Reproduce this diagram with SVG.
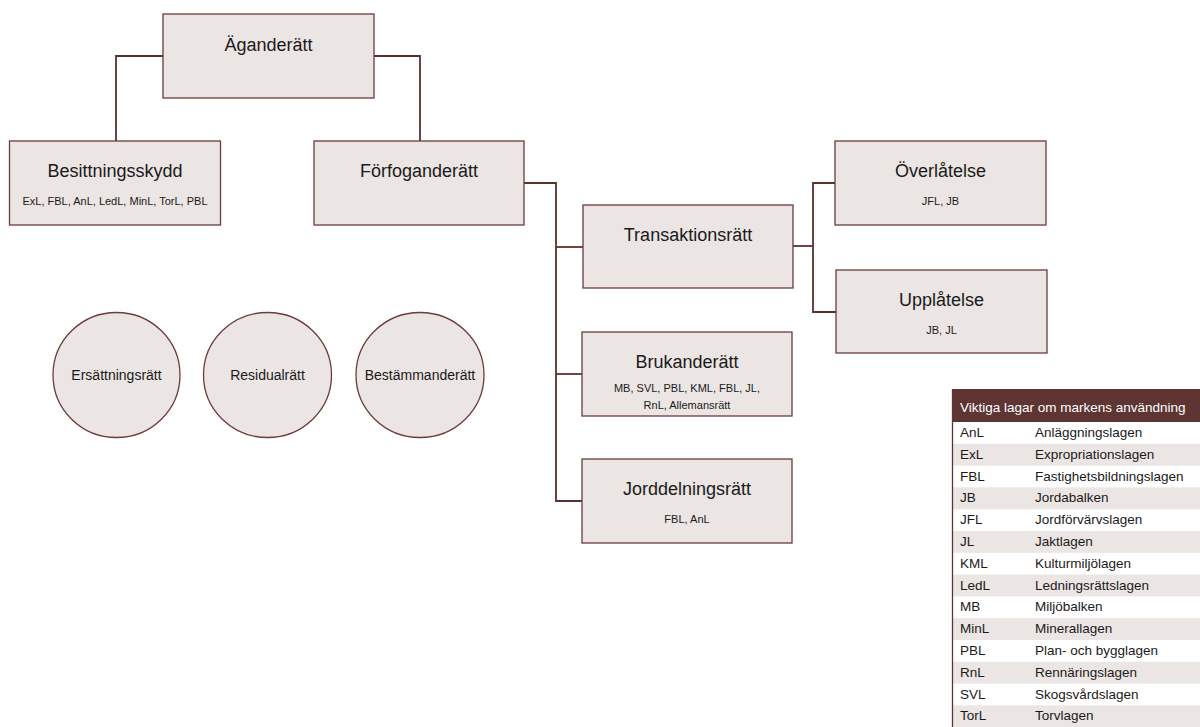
<svg xmlns="http://www.w3.org/2000/svg" width="1200" height="727" viewBox="0 0 1200 727">
<style>
.box{fill:#ebe5e3;stroke:#6b3c3c;stroke-width:1.3}
.t{font-family:"Liberation Sans",Arial,sans-serif;font-size:18px;fill:#1a1a1a;text-anchor:middle}
.s{font-family:"Liberation Sans",Arial,sans-serif;font-size:11px;fill:#1a1a1a;text-anchor:middle}
.c{font-family:"Liberation Sans",Arial,sans-serif;font-size:14px;fill:#1a1a1a;text-anchor:middle}
.conn{fill:none;stroke:#5e2f2f;stroke-width:1.8}
.tb{font-family:"Liberation Sans",Arial,sans-serif;font-size:13.5px;fill:#1a1a1a}
.hd{font-family:"Liberation Sans",Arial,sans-serif;font-size:13.5px;fill:#ffffff}
.g{fill:#ebe5e3}
</style>
<rect width="1200" height="727" fill="#ffffff"/>
<g id="connectors">
<path class="conn" d="M163,56 H116 V141"/>
<path class="conn" d="M374,56 H420 V141"/>
<path class="conn" d="M524,183 H556 V501 H582"/>
<path class="conn" d="M556,247 H583"/>
<path class="conn" d="M556,374 H582"/>
<path class="conn" d="M793,246 H813"/>
<path class="conn" d="M835,183 H813 V312 H836"/>
</g>
<g id="aganderatt">
<rect class="box" x="163" y="14" width="211" height="84"/>
<text class="t" x="268.5" y="51">Äganderätt</text>
</g>
<g id="besittningsskydd">
<rect class="box" x="9.5" y="141" width="211" height="84"/>
<text class="t" x="115" y="177">Besittningsskydd</text>
<text class="s" x="115" y="205">ExL, FBL, AnL, LedL, MinL, TorL, PBL</text>
</g>
<g id="forfoganderatt">
<rect class="box" x="314" y="141" width="210" height="84"/>
<text class="t" x="419" y="177">Förfoganderätt</text>
</g>
<g id="transaktionsratt">
<rect class="box" x="583" y="205" width="210" height="83"/>
<text class="t" x="688" y="241">Transaktionsrätt</text>
</g>
<g id="brukanderatt">
<rect class="box" x="582" y="332" width="210" height="84"/>
<text class="t" x="687" y="368">Brukanderätt</text>
<text class="s" x="687" y="392">MB, SVL, PBL, KML, FBL, JL,</text>
<text class="s" x="687" y="409">RnL, Allemansrätt</text>
</g>
<g id="jorddelningsratt">
<rect class="box" x="582" y="459" width="210" height="84"/>
<text class="t" x="687" y="495">Jorddelningsrätt</text>
<text class="s" x="687" y="523">FBL, AnL</text>
</g>
<g id="overlatelse">
<rect class="box" x="835" y="141" width="211" height="84"/>
<text class="t" x="940.5" y="177">Överlåtelse</text>
<text class="s" x="940.5" y="205">JFL, JB</text>
</g>
<g id="upplatelse">
<rect class="box" x="836" y="270" width="211" height="83"/>
<text class="t" x="941.5" y="306">Upplåtelse</text>
<text class="s" x="941.5" y="334">JB, JL</text>
</g>
<g id="ersattningsratt">
<ellipse class="box" cx="116.5" cy="375" rx="63.5" ry="62.5"/>
<text class="c" x="116.5" y="380">Ersättningsrätt</text>
</g>
<g id="residualratt">
<ellipse class="box" cx="267.5" cy="375" rx="64" ry="62.5"/>
<text class="c" x="267.5" y="380">Residualrätt</text>
</g>
<g id="bestammanderatt">
<ellipse class="box" cx="420" cy="375" rx="64" ry="62.5"/>
<text class="c" x="420" y="380">Bestämmanderätt</text>
</g>
<g id="legend">
<rect x="952.5" y="389" width="248" height="33" fill="#5e3533"/>
<text class="hd" x="960" y="412">Viktiga lagar om markens användning</text>
<rect class="g" x="952.5" y="443.8" width="248" height="21.8"/>
<rect class="g" x="952.5" y="487.4" width="248" height="21.8"/>
<rect class="g" x="952.5" y="531" width="248" height="21.8"/>
<rect class="g" x="952.5" y="574.6" width="248" height="21.8"/>
<rect class="g" x="952.5" y="618.2" width="248" height="21.8"/>
<rect class="g" x="952.5" y="661.8" width="248" height="21.8"/>
<rect class="g" x="952.5" y="705.4" width="248" height="21.8"/>
<line x1="952.5" y1="389" x2="952.5" y2="727" stroke="#5e3533" stroke-width="1.3"/>
<g class="tb">
<text x="960" y="437">AnL</text><text x="1035" y="437">Anläggningslagen</text>
<text x="960" y="458.8">ExL</text><text x="1035" y="458.8">Expropriationslagen</text>
<text x="960" y="480.6">FBL</text><text x="1035" y="480.6">Fastighetsbildningslagen</text>
<text x="960" y="502.4">JB</text><text x="1035" y="502.4">Jordabalken</text>
<text x="960" y="524.2">JFL</text><text x="1035" y="524.2">Jordförvärvslagen</text>
<text x="960" y="546">JL</text><text x="1035" y="546">Jaktlagen</text>
<text x="960" y="567.8">KML</text><text x="1035" y="567.8">Kulturmiljölagen</text>
<text x="960" y="589.6">LedL</text><text x="1035" y="589.6">Ledningsrättslagen</text>
<text x="960" y="611.4">MB</text><text x="1035" y="611.4">Miljöbalken</text>
<text x="960" y="633.2">MinL</text><text x="1035" y="633.2">Minerallagen</text>
<text x="960" y="655">PBL</text><text x="1035" y="655">Plan- och bygglagen</text>
<text x="960" y="676.8">RnL</text><text x="1035" y="676.8">Rennäringslagen</text>
<text x="960" y="698.6">SVL</text><text x="1035" y="698.6">Skogsvårdslagen</text>
<text x="960" y="720.4">TorL</text><text x="1035" y="720.4">Torvlagen</text>
</g>
</g>
</svg>
